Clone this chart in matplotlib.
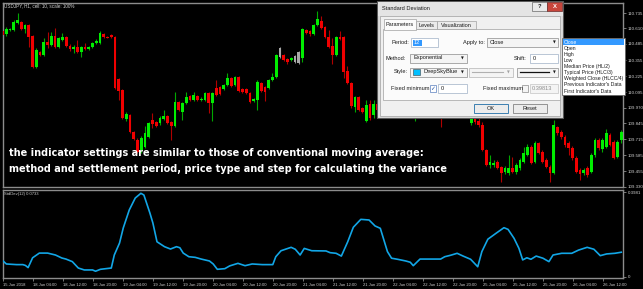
import matplotlib
matplotlib.use('Agg')
import matplotlib.pyplot as plt
from matplotlib.patches import Rectangle
import numpy as np

# ---------------- data ----------------
symbol_label = "USDJPY, H1, cell: 10, scale: 100%"
indicator_label = "StdDev(12) 0.0733"

open_ = [
110.590,110.565,110.598,110.598,110.654,110.662,110.606,110.638,110.549,110.299,
110.420,110.396,110.501,110.476,110.549,110.460,110.517,110.541,110.468,110.444,
110.460,110.420,110.460,110.444,110.460,110.493,110.493,110.565,110.541,110.557,
110.541,110.202,110.113,109.878,109.911,109.773,109.709,109.628,109.652,109.733,
109.870,109.854,109.846,109.878,109.903,109.854,109.822,110.016,109.935,110.008,
110.064,110.032,110.064,110.032,110.032,110.089,110.008,110.129,110.137,110.121,
110.153,110.210,110.153,110.218,110.121,110.121,110.089,110.024,110.032,110.169,
110.137,110.129,110.194,110.218,110.379,110.396,110.363,110.355,110.339,110.331,
110.371,110.598,110.590,110.565,110.638,110.670,110.622,110.541,110.468,110.396,
110.541,110.541,110.266,110.169,109.975,110.056,109.967,109.862,110.000,109.911,
110.000,109.951,110.032,109.983,110.064,110.000,110.048,109.992,109.935,110.008,
109.911,109.967,110.016,109.983,110.048,110.000,110.064,109.967,109.903,109.967,
109.935,109.983,110.032,109.983,109.903,109.846,109.887,109.862,109.830,109.628,
109.507,109.507,109.531,109.491,109.450,109.442,109.483,109.450,109.483,109.531,
109.588,109.652,109.531,109.685,109.612,109.547,109.491,109.442,109.814,109.773,
109.733,109.685,109.644,109.563,109.466,109.442,109.483,109.450,109.588,109.709,
109.636,109.652,109.749,109.693,109.571,109.709]

close_ = [
110.557,110.606,110.606,110.662,110.678,110.606,110.638,110.541,110.299,110.436,
110.396,110.501,110.476,110.549,110.460,110.533,110.541,110.468,110.444,110.460,
110.420,110.460,110.444,110.460,110.493,110.509,110.573,110.541,110.533,110.541,
110.129,110.105,109.887,109.919,109.773,109.717,109.612,109.725,109.765,109.846,
109.838,109.822,109.887,109.903,109.846,109.822,110.016,109.951,110.008,110.056,
110.032,110.072,110.032,110.040,110.089,110.008,110.089,110.072,110.081,110.153,
110.210,110.145,110.218,110.105,110.097,110.089,110.016,110.040,110.177,110.105,
110.097,110.194,110.218,110.396,110.452,110.355,110.339,110.371,110.388,110.420,
110.606,110.573,110.565,110.638,110.687,110.614,110.541,110.460,110.396,110.541,
110.525,110.258,110.169,109.983,110.056,109.951,109.935,109.992,109.887,110.000,
109.951,110.032,109.983,110.064,110.000,110.048,109.967,109.935,110.008,109.951,
109.967,110.016,109.983,110.048,110.000,110.064,109.951,109.903,109.951,109.919,
110.000,110.032,109.967,109.919,109.951,109.878,109.854,109.830,109.628,109.507,
109.531,109.523,109.483,109.442,109.483,109.483,109.450,109.507,109.547,109.604,
109.652,109.523,109.685,109.604,109.531,109.491,109.442,109.830,109.765,109.733,
109.668,109.644,109.563,109.450,109.434,109.466,109.426,109.588,109.709,109.644,
109.709,109.765,109.668,109.563,109.693,109.773]

high_ = [
110.606,110.622,110.614,110.678,110.735,110.670,110.646,110.646,110.557,110.452,
110.428,110.533,110.581,110.581,110.614,110.541,110.573,110.549,110.484,110.476,
110.517,110.468,110.493,110.468,110.501,110.525,110.590,110.573,110.549,110.565,
110.549,110.210,110.121,109.935,109.919,109.782,109.725,109.741,109.822,109.854,
109.927,109.862,109.903,109.951,109.911,109.862,110.097,110.024,110.016,110.097,
110.072,110.097,110.072,110.056,110.097,110.097,110.097,110.194,110.145,110.161,
110.250,110.218,110.226,110.226,110.129,110.129,110.097,110.048,110.194,110.177,
110.145,110.202,110.250,110.404,110.460,110.404,110.371,110.379,110.396,110.428,
110.614,110.606,110.598,110.646,110.751,110.711,110.630,110.598,110.533,110.549,
110.590,110.549,110.307,110.177,110.064,110.064,109.975,110.032,110.032,110.032,
110.032,110.048,110.056,110.081,110.072,110.064,110.056,110.000,110.024,110.016,
109.983,110.032,110.032,110.064,110.056,110.081,110.072,110.000,109.983,109.983,
110.016,110.048,110.040,110.000,109.967,109.895,109.911,109.887,109.854,109.636,
109.588,109.547,109.547,109.499,109.499,109.588,109.571,109.523,109.563,109.652,
109.676,109.668,109.701,109.693,109.628,109.563,109.507,109.870,109.822,109.790,
109.749,109.701,109.660,109.579,109.483,109.483,109.499,109.604,109.725,109.725,
109.725,109.798,109.765,109.709,109.709,109.790]

low_ = [
110.541,110.549,110.590,110.590,110.646,110.598,110.573,110.460,110.291,110.291,
110.388,110.388,110.452,110.468,110.452,110.452,110.509,110.460,110.428,110.412,
110.412,110.379,110.436,110.436,110.452,110.484,110.484,110.533,110.533,110.533,
110.121,110.032,109.878,109.862,109.765,109.709,109.604,109.604,109.644,109.725,
109.806,109.814,109.830,109.870,109.838,109.709,109.814,109.943,109.870,110.000,
110.024,110.024,110.024,110.024,110.024,109.927,109.862,110.064,110.072,110.113,
110.145,110.137,110.145,110.097,110.089,110.081,110.008,110.016,109.951,110.097,
110.024,110.121,110.186,110.210,110.371,110.347,110.323,110.347,110.331,110.323,
110.339,110.565,110.549,110.557,110.630,110.606,110.533,110.452,110.323,110.388,
110.517,110.210,110.161,109.967,109.935,109.943,109.927,109.854,109.870,109.887,
109.919,109.935,109.967,109.967,109.983,109.983,109.951,109.919,109.919,109.935,
109.862,109.951,109.967,109.967,109.983,109.983,109.935,109.814,109.895,109.903,
109.919,109.967,109.951,109.903,109.895,109.830,109.838,109.814,109.620,109.499,
109.483,109.491,109.475,109.369,109.434,109.426,109.442,109.434,109.466,109.523,
109.579,109.515,109.523,109.596,109.523,109.483,109.369,109.434,109.749,109.717,
109.652,109.588,109.547,109.442,109.386,109.426,109.410,109.442,109.571,109.628,
109.612,109.644,109.660,109.555,109.563,109.685]

neutral_bars = [74, 78, 79]

sd_bar = [0,0.9,3.6,5.3,6,6.7,7.9,9.7,11.9,14,15.7,16.8,18.5,20.1,21.7,23.9,24.7,26,28.9,29.7,
          31.1,32.1,33.7,35.3,36.8,37.6,39.2,40,41.1,43.1,44.7,46.3,47.2,48.1,49.6,51.3,52.9,55.1,56.1,57.2,
          59.2,60.5,62.7,64.6,66.5,69.2,72,72.8,74.2,76.9,78,79.3,80.4,82.4,86.2,87.3,88.9,90.3,92,93.5,
          95.5,97.7,99.3,100.7,102.6,103.7,105.3,107.5,108.7,109.5,111.3,113.5,116.8,117.9,119.5,121.2,122.8,124.8,126.7,127.8,
          129.4,131.6,133.7,134.8,136.4,137.7,138.7,139.8,140.9,142.3,144.1,145.7,146.8,149.1,151.8,153.6,155.9,157.7,159.4,161.1,
          163.3,165]
sd_val = [0.075,0.061,0.058,0.058,0.054,0.044,0.090,0.112,0.112,0.103,0.089,0.084,0.072,0.042,0.033,0.033,0.027,0.036,0.042,0.103,
          0.159,0.230,0.314,0.370,0.392,0.384,0.300,0.253,0.165,0.142,0.131,0.142,0.137,0.112,0.095,0.092,0.084,0.075,0.061,0.036,
          0.039,0.052,0.064,0.053,0.061,0.058,0.058,0.095,0.123,0.139,0.130,0.103,0.134,0.123,0.122,0.114,0.111,0.098,0.165,0.233,
          0.270,0.267,0.239,0.228,0.119,0.088,0.083,0.075,0.069,0.053,0.084,0.084,0.084,0.095,0.102,0.111,0.098,0.083,0.048,0.119,
          0.177,0.205,0.231,0.223,0.181,0.134,0.080,0.090,0.083,0.098,0.088,0.072,0.103,0.111,0.111,0.126,0.139,0.130,0.100,0.108,
          0.111,0.116]

price_ticks = [110.735, 110.610, 110.485, 110.355, 110.225, 110.095,
               109.970, 109.845, 109.715, 109.585, 109.455, 109.330]
sd_ticks = [0.0, 0.3981]
sd_tick_labels = ["0", "0.3981"]
date_tick_bars = list(range(0, 161, 8))
date_labels = ["15 Jun 2018", "18 Jun 04:00", "18 Jun 12:00", "18 Jun 20:00", "19 Jun 04:00",
               "19 Jun 12:00", "19 Jun 20:00", "20 Jun 04:00", "20 Jun 12:00", "20 Jun 20:00",
               "21 Jun 04:00", "21 Jun 12:00", "21 Jun 20:00", "22 Jun 04:00", "22 Jun 12:00",
               "22 Jun 20:00", "25 Jun 04:00", "25 Jun 12:00", "25 Jun 20:00", "26 Jun 04:00",
               "26 Jun 12:00"]

overlay_line1 = "the indicator settings are similar to those of conventional moving average:"
overlay_line2 = "method and settlement period, price type and step for calculating the variance"

apply_items = ["Close", "Open", "High", "Low", "Median Price (HL/2)", "Typical Price (HLC/3)",
               "Weighted Close (HLCC/4)", "Previous Indicator's Data", "First Indicator's Data"]

# ---------------- figure ----------------
W, H = 643, 289
fig = plt.figure(figsize=(W / 100, H / 100), dpi=100, facecolor='black')

def frac_rect(x0, y0, x1, y1):
    return [x0 / W, 1 - y1 / H, (x1 - x0) / W, (y1 - y0) / H]

GRID = '#8c8c8c'
LBL = '#d0d0d0'
TFONT = 'Liberation Sans'

ax = fig.add_axes(frac_rect(3, 3, 623, 187))
axi = fig.add_axes(frac_rect(3, 190, 623, 278))
for a in (ax, axi):
    a.set_facecolor('black')
    for s in a.spines.values():
        s.set_color(GRID)
        s.set_linewidth(1.0)
    a.set_xlim(0.133, 165.47)

o = np.array(open_); c = np.array(close_); hi = np.array(high_); lo = np.array(low_)
idx = np.arange(len(o))
up = c >= o
body_col = np.where(up, '#00ee00', '#f00000').astype(object)
wick_col = np.where(up, '#00a800', '#b00000').astype(object)
for b in neutral_bars:
    body_col[b] = '#a8a8a8'
    wick_col[b] = '#909090'

ax.vlines(idx, lo, hi, colors=list(wick_col), linewidth=0.8, zorder=2)
ax.bar(idx, np.maximum(np.abs(c - o), 0.005), bottom=np.minimum(o, c), width=0.72,
       color=list(body_col), linewidth=0, zorder=3)

ax.set_ylim(109.329, 110.816)
ax.yaxis.tick_right()
ax.set_yticks(price_ticks)
ax.set_yticklabels([f"{p:.3f}" for p in price_ticks])
ax.set_xticks([])
ax.tick_params(axis='y', direction='out', length=2.5, width=0.6, color=GRID,
               labelsize=3.2, labelcolor=LBL, pad=1.2)
for t in ax.get_yticklabels():
    t.set_fontfamily(TFONT)

axi.plot(sd_bar, sd_val, color='#12a6e6', linewidth=1.2, zorder=3)
axi.set_ylim(-0.0047, 0.4075)
axi.yaxis.tick_right()
axi.set_yticks(sd_ticks)
axi.set_yticklabels(sd_tick_labels)
axi.set_xticks(date_tick_bars)
axi.set_xticklabels(date_labels)
axi.tick_params(axis='y', direction='out', length=2.5, width=0.6, color=GRID,
                labelsize=3.2, labelcolor=LBL, pad=1.2)
axi.tick_params(axis='x', direction='out', length=2.5, width=0.6, color=GRID,
                labelsize=3.0, labelcolor=LBL, pad=1.0)
for t in axi.get_xticklabels():
    t.set_horizontalalignment('left')
    t.set_fontfamily(TFONT)
for t in axi.get_yticklabels():
    t.set_fontfamily(TFONT)

# ---------------- overlay (labels, text, dialog) ----------------
ov = fig.add_axes([0, 0, 1, 1], zorder=10)
ov.set_xlim(0, W)
ov.set_ylim(H, 0)
ov.axis('off')

def box(x0, y0, x1, y1, fc, ec='none', lw=0.5, z=1):
    ov.add_patch(Rectangle((x0, y0), x1 - x0, y1 - y0, facecolor=fc, edgecolor=ec,
                           linewidth=lw, zorder=z))

def txt(x, y, s, size=4.1, color='#1a1a1a', ha='left', va='center', weight='normal',
        family=TFONT, z=5):
    return ov.text(x, y, s, fontsize=size, color=color, ha=ha, va=va, fontweight=weight,
                   family=family, zorder=z)

txt(4, 5.5, symbol_label, size=3.3, color=LBL)
txt(4, 193.5, indicator_label, size=3.0, color=LBL)

renderer = fig.canvas.get_renderer()
for line, base, target in ((overlay_line1, 156.5, 411.0), (overlay_line2, 172.5, 438.0)):
    t = txt(9, base, line, size=8, color='white', va='baseline', weight='bold',
            family='DejaVu Sans')
    w = t.get_window_extent(renderer).width
    t.set_fontsize(8 * target / w)

# dialog window
box(377, 1, 563, 118, '#dcdcdc', '#5a5a5a', 0.8, z=2)
box(378, 1.5, 562.5, 15.5, '#e4e4e4', z=2)
txt(382, 8.5, "Standard Deviation", size=4.1)
box(532, 2, 547, 11, '#e9e9e9', '#6a6a6a', 0.5, z=3)
txt(539.5, 6.6, "?", size=4.2, ha='center', weight='bold')
box(547, 2, 562, 11, '#c8463c', '#6a2a2a', 0.5, z=3)
txt(554.5, 6.6, "X", size=4.2, ha='center', weight='bold', color='white')
box(380, 16, 560, 116, '#f0f0f0', '#a0a0a0', 0.5, z=2)
box(383, 29, 560, 100, '#fbfbfb', '#a0a0a0', 0.5, z=2)

box(437, 21, 476, 29, '#ebebeb', '#a0a0a0', 0.5, z=3)
txt(456.5, 25.2, "Visualization", size=4.0, ha='center')
box(416, 21, 437, 29, '#ebebeb', '#a0a0a0', 0.5, z=3)
txt(426.5, 25.2, "Levels", size=4.0, ha='center')
box(384, 19, 416, 29.6, '#fbfbfb', '#a0a0a0', 0.5, z=3)
txt(400, 24.5, "Parameters", size=4.0, ha='center')

# row 1
txt(391, 42.5, "Period:")
box(411, 38, 438, 47, 'white', '#9fb0c6', 0.5, z=3)
box(413, 39.5, 421.5, 45.5, '#3399ff', z=4)
txt(414, 42.5, "12", color='white')
txt(463, 42.5, "Apply to:")
box(487, 38, 558, 47, '#f4f4f4', '#8a8a8a', 0.5, z=3)
txt(490, 42.5, "Close")
txt(554, 42.5, "\u25BC", size=2.6, ha='center', family='DejaVu Sans')

# row 2
txt(386, 58, "Method:")
box(410, 53.5, 467, 62.5, '#f4f4f4', '#8a8a8a', 0.5, z=3)
txt(413, 58, "Exponential")
txt(462.5, 58, "\u25BC", size=2.6, ha='center', family='DejaVu Sans')
txt(514, 58, "Shift:")
box(530, 53.5, 558, 62.5, 'white', '#9fb0c6', 0.5, z=3)
txt(533, 58, "0")

# row 3
txt(394, 72, "Style:")
box(410, 67.5, 467, 76.5, '#f4f4f4', '#8a8a8a', 0.5, z=3)
box(412.5, 69.3, 419.5, 74.8, '#00bfff', '#404040', 0.4, z=4)
txt(423, 72, "DeepSkyBlue")
txt(462.5, 72, "\u25BC", size=2.6, ha='center', family='DejaVu Sans')
box(469, 67.5, 513, 76.5, '#f4f4f4', '#b4b4b4', 0.5, z=3)
ov.plot([472, 503], [72, 72], color='#b0b0b0', lw=0.8, zorder=5)
txt(508.5, 72, "\u25BC", size=2.6, ha='center', color='#a0a0a0', family='DejaVu Sans')
box(517, 67.5, 558, 76.5, '#f4f4f4', '#8a8a8a', 0.5, z=3)
ov.plot([520, 549], [72, 72], color='#111111', lw=0.9, zorder=5)
txt(554, 72, "\u25BC", size=2.6, ha='center', family='DejaVu Sans')

# row 4
txt(391, 88.5, "Fixed minimum")
box(429.5, 85, 435.5, 91.5, 'white', '#5a7fbf', 0.5, z=3)
txt(432.5, 88.3, "\u2713", size=4.2, ha='center', color='#2050a0', family='DejaVu Sans')
box(438, 84, 467, 93, 'white', '#9fb0c6', 0.5, z=3)
txt(441, 88.5, "0")
txt(483, 88.5, "Fixed maximum")
box(521.5, 85, 527.5, 91.5, '#f4f4f4', '#8a8a8a', 0.5, z=3)
box(530, 84, 558, 93, '#f4f4f4', '#c4c4c4', 0.5, z=3)
txt(532, 88.5, "0.39813", color='#8c8c8c')

# buttons
box(474, 104, 508, 113, '#ececec', '#3c7fb1', 0.7, z=3)
txt(491, 108.5, "OK", ha='center')
box(513, 104, 547, 113, '#ececec', '#707070', 0.5, z=3)
txt(530, 108.5, "Reset", ha='center')

# drop-down list
box(562, 38, 625, 95, 'white', '#646464', 0.6, z=6)
box(563, 39.3, 624.4, 45.4, '#3399ff', z=7)
for k, item in enumerate(apply_items):
    txt(564, 42.3 + 6.1 * k, item, size=3.7, color='white' if k == 0 else '#1a1a1a', z=8)

fig.savefig('out.png', dpi=100, facecolor='black')
